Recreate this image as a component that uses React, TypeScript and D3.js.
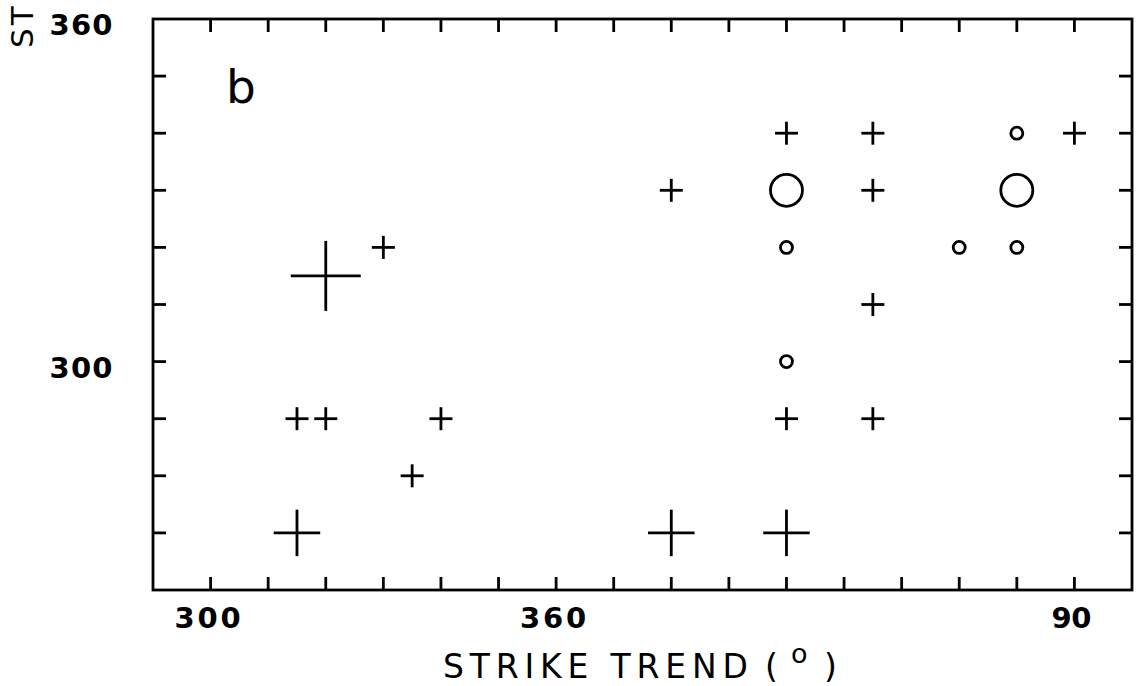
import React from "react";
import * as d3 from "d3";

// Unwrapped strike trend: 360+ values stand for 0..90 degrees
const xTickValues = [300, 310, 320, 330, 340, 350, 360, 370, 380, 390, 400, 410, 420, 430, 440, 450];
const xTickLabels: Record<number, string> = { 300: "300", 360: "360", 450: "90" };
const yTickValues = [270, 280, 290, 300, 310, 320, 330, 340, 350];
const yTickLabels: Record<number, string> = { 360: "360", 300: "300" };

// crosses: [strike trend (unwrapped), strike, count]
const crosses: [number, number, number][] = [
  [315, 270, 2], [380, 270, 2], [400, 270, 2],
  [335, 280, 1],
  [315, 290, 1], [320, 290, 1], [340, 290, 1], [400, 290, 1], [415, 290, 1],
  [415, 310, 1],
  [320, 315, 3],
  [330, 320, 1],
  [380, 330, 1], [415, 330, 1],
  [400, 340, 1], [415, 340, 1], [450, 340, 1],
];
// circles: [strike trend (unwrapped), strike, count]
const circles: [number, number, number][] = [
  [400, 300, 1],
  [400, 320, 1], [430, 320, 1], [440, 320, 1],
  [400, 330, 3], [440, 330, 3],
  [440, 340, 1],
];

const W = 1138, H = 686;

export default function App() {
  const x = d3.scaleLinear().domain([290, 460]).range([153, 1132]);
  const y = d3.scaleLinear().domain([260, 360]).range([590, 19]);
  const crossArm = d3.scaleLinear().domain([1, 3]).range([11.5, 35]);
  const circleR = d3.scaleLinear().domain([1, 3]).range([6, 16]);
  const [x0, x1] = x.range();
  const [y0, y1] = y.range();
  const tl = 13;
  const sw = 2.8;
  const font = "'DejaVu Sans', Verdana, sans-serif";

  return (
    <svg width={W} height={H} style={{ position: "absolute", left: 0, top: 0, background: "#fff" }}>
      {/* frame */}
      <rect x={x0} y={y1} width={x1 - x0} height={y0 - y1} fill="none" stroke="#000" strokeWidth={sw} />
      {/* x ticks top & bottom */}
      {xTickValues.map((v) => (
        <g key={"xt" + v}>
          <line x1={x(v)} x2={x(v)} y1={y0} y2={y0 - tl} stroke="#000" strokeWidth={sw} />
          <line x1={x(v)} x2={x(v)} y1={y1} y2={y1 + tl} stroke="#000" strokeWidth={sw} />
        </g>
      ))}
      {/* y ticks left & right */}
      {yTickValues.map((v) => (
        <g key={"yt" + v}>
          <line x1={x0} x2={x0 + tl} y1={y(v)} y2={y(v)} stroke="#000" strokeWidth={sw} />
          <line x1={x1} x2={x1 - tl} y1={y(v)} y2={y(v)} stroke="#000" strokeWidth={sw} />
        </g>
      ))}
      {/* x tick labels */}
      {Object.keys(xTickLabels).map((k) => {
        const v = +k;
        const s = xTickLabels[v];
        return (
          <text key={"xl" + k} x={x(v) - 3} y={628} textAnchor="middle" fontFamily={font} fontWeight="bold"
            fontSize={29} textLength={s.length === 3 ? 66 : 40} lengthAdjust="spacing">{s}</text>
        );
      })}
      {/* y tick labels */}
      {Object.keys(yTickLabels).map((k) => {
        const v = +k;
        const s = yTickLabels[v];
        return (
          <text key={"yl" + k} x={81} y={y(v) + 16} textAnchor="middle" fontFamily={font} fontWeight="bold"
            fontSize={29} textLength={63} lengthAdjust="spacing">{s}</text>
        );
      })}
      {/* x title */}
      <text x={443} y={678} fontFamily={font} fontSize={33} textLength={305} lengthAdjust="spacing">STRIKE TREND</text>
      <text x={765} y={678} fontFamily={font} fontSize={33}>(</text>
      <text x={791} y={663} fontFamily={font} fontSize={27}>o</text>
      <text x={824} y={678} fontFamily={font} fontSize={33}>)</text>
      {/* y title (cut at top in the reference) */}
      <text transform="translate(33,48) rotate(-90)" fontFamily={font} fontSize={31} letterSpacing={3}>ST</text>
      {/* panel letter */}
      <text x={226} y={103} fontFamily={font} fontSize={47}>b</text>
      {/* crosses */}
      {crosses.map(([a, b, n], i) => {
        const cx = x(a), cy = y(b), r = crossArm(n);
        return (
          <g key={"c" + i} stroke="#000" strokeWidth={sw}>
            <line x1={cx - r} x2={cx + r} y1={cy} y2={cy} />
            <line x1={cx} x2={cx} y1={cy - r} y2={cy + r} />
          </g>
        );
      })}
      {/* circles */}
      {circles.map(([a, b, n], i) => (
        <circle key={"o" + i} cx={x(a)} cy={y(b)} r={circleR(n)} fill="none" stroke="#000" strokeWidth={sw} />
      ))}
    </svg>
  );
}
